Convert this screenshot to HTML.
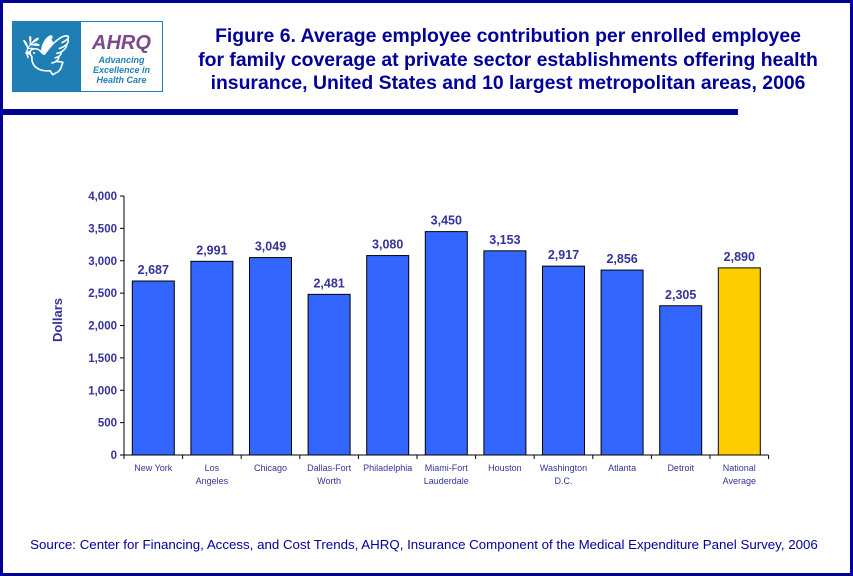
<!DOCTYPE html>
<html><head><meta charset="utf-8"><style>
body{margin:0;background:#fff;}
#wrap{position:relative;width:853px;height:576px;overflow:hidden;font-family:"Liberation Sans",Arial,sans-serif;}
.frame{position:absolute;left:0;top:0;width:847px;height:570px;border:3px solid #000099;}
</style></head><body>
<div id="wrap">
<div class="frame"></div>
<div style="position:absolute;left:0;top:109px;width:738px;height:6px;background:#000099"></div>
<div style="position:absolute;left:12px;top:21px;width:68px;height:71px;background:#1f7fb5;color:#fff;font-size:40px;text-align:center;line-height:71px">🕊</div>
<div style="position:absolute;left:80px;top:21px;width:81px;height:69px;background:#fff;border:1px solid #1f7fb5;text-align:center">
<div style="font-weight:bold;font-style:italic;color:#7a4a8c;font-size:20px;margin-top:10px">AHRQ</div>
<div style="color:#1f7fb5;font-size:9px;font-style:italic;font-weight:bold;line-height:10px">Advancing<br>Excellence in<br>Health Care</div></div>
<div style="position:absolute;left:160px;top:25px;width:696px;text-align:center;color:#000099;font-weight:bold;font-size:19.4px;line-height:23.5px;white-space:nowrap">Figure 6. Average employee contribution per enrolled employee<br>for family coverage at private sector establishments offering health<br>insurance, United States and 10 largest metropolitan areas, 2006</div>
<svg id="chart" width="853" height="576" style="position:absolute;left:0;top:0"></svg>
<div style="position:absolute;left:0;top:537px;width:848px;text-align:center;color:#000099;font-size:13.3px;white-space:nowrap">Source: Center for Financing, Access, and Cost Trends, AHRQ, Insurance Component of the Medical Expenditure Panel Survey, 2006</div>
</div>
<script>
const categories=[["New York"],["Los","Angeles"],["Chicago"],["Dallas-Fort","Worth"],["Philadelphia"],["Miami-Fort","Lauderdale"],["Houston"],["Washington","D.C."],["Atlanta"],["Detroit"],["National","Average"]];
const values=[2687,2991,3049,2481,3080,3450,3153,2917,2856,2305,2890];
const ticks=[0,500,1000,1500,2000,2500,3000,3500,4000];
const NS="http://www.w3.org/2000/svg",svg=document.getElementById('chart');
const x0=124,y0=455,yTop=196,step=58.6,bw=42;
const y=v=>y0-(v/4000)*(y0-yTop);
const xc=i=>x0+step*(i+0.5);
function mk(t,a,txt){const e=document.createElementNS(NS,t);for(const k in a)e.setAttribute(k,a[k]);if(txt!==undefined)e.textContent=txt;svg.appendChild(e);return e;}
let e=mk('line',{x1:x0,y1:yTop,x2:x0,y2:y0,stroke:'#000'});

e=mk('line',{x1:x0,y1:y0,x2:x0+step*categories.length,y2:y0,stroke:'#000'});

ticks.forEach(t=>{mk('line',{x1:x0-4,x2:x0,y1:y(t),y2:y(t),stroke:'#000'});
e=mk('text',{x:x0-7,y:y(t)+4,'text-anchor':'end','font-size':11.5,'font-weight':'bold',fill:'#333399'},t.toLocaleString('en-US'));
});
for(let i=0;i<=categories.length;i++)mk('line',{x1:x0+step*i,x2:x0+step*i,y1:y0,y2:y0+4,stroke:'#000'});
values.forEach((v,i)=>{
e=mk('rect',{x:xc(i)-bw/2,y:y(v),width:bw,height:y0-y(v),fill:i==values.length-1?'#FFCC00':'#3366FF',stroke:'#000','stroke-width':1});

e=mk('text',{x:xc(i),y:y(v)-7,'text-anchor':'middle','font-size':12.5,'font-weight':'bold',fill:'#333399'},v.toLocaleString('en-US'));

categories[i].forEach((l,j)=>{e=mk('text',{x:xc(i),y:y0+16+j*13,'text-anchor':'middle','font-size':9,fill:'#333399'},l);
});
});
e=mk('text',{x:62,y:320,'text-anchor':'middle','font-size':13,'font-weight':'bold',fill:'#333399',transform:'rotate(-90 62 320)'},'Dollars');

</script>
</body></html>
